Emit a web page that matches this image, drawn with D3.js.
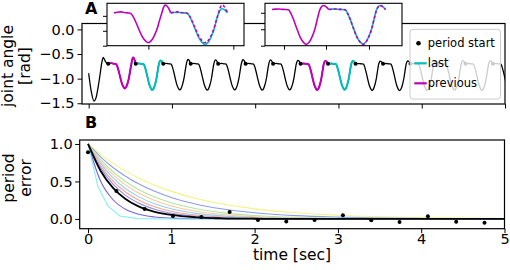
<!DOCTYPE html>
<html><head><meta charset="utf-8">
<script src="https://cdn.jsdelivr.net/npm/d3@7"></script>
<style>body{margin:0;background:#fff} svg{display:block} text{font-family:"DejaVu Sans",sans-serif}</style>
</head><body><svg id="c" width="510" height="270"></svg>
<script>
// ================= DATA =================
// Panel A: joint angle signal
const initTimes  = [0.0, 0.03, 0.064, 0.09, 0.115, 0.14, 0.156, 0.175, 0.19, 0.204, 0.235];
const initValues = [-0.89, -1.25, -1.455, -1.38, -1.16, -0.88, -0.69, -0.57, -0.61, -0.66, -0.70];
const periodStartTimes = [0.235, 0.565, 0.895, 1.225, 1.555, 1.885, 2.215, 2.545, 2.875, 3.205, 3.535, 3.865, 4.195, 4.525, 4.855];
// one gait period (phase 0..1)
const templatePhase = [0, 0.06, 0.12, 0.18, 0.24, 0.29, 0.33, 0.38, 0.43, 0.50, 0.56, 0.60, 0.65, 0.70, 0.76, 0.80, 0.84, 0.87, 0.90, 0.935, 0.97, 1.0];
const templateValue = [-0.70, -0.69, -0.685, -0.695, -0.70, -0.705, -0.75, -0.84, -0.95, -1.09, -1.16, -1.185, -1.16, -1.09, -0.96, -0.83, -0.71, -0.62, -0.575, -0.59, -0.64, -0.70];
const periodMin  = [-1.20, -1.23, -1.23, -1.235, -1.23, -1.235, -1.23, -1.23, -1.225, -1.24, -1.245, -1.24, -1.235, -1.24, -1.24];
const periodPeak = [-0.57, -0.63, -0.61, -0.62, -0.615, -0.62, -0.63, -0.64, -0.64, -0.645, -0.64, -0.64, -0.635, -0.64, -0.64];
const periodRole = ["previous","last","","","","","","previous","last","","","","","",""];
const aYTicks = [0, -0.5, -1.0, -1.5];
const aXTicks = [0, 1, 2, 3, 4, 5];
const inset1YTicks = [-0.75, -1.0, -1.25];
const inset2YTicks = [-0.75, -1.0, -1.25];
const inset1XTicks = [0.2, 0.694];
const inset2XTicks = [0.07, 0.314, 0.564];

// Panel B: period error
const errTimes = [0, 0.15, 0.3, 0.45, 0.6, 0.8, 1.0, 1.3, 1.6, 2.0, 2.5, 3.0, 4.0, 5.0];
const errYellow    = [1, 0.861, 0.741, 0.638, 0.549, 0.449, 0.368, 0.273, 0.202, 0.135, 0.082, 0.050, 0.018, 0.007];
const errBlue      = [1, 0.829, 0.687, 0.570, 0.472, 0.368, 0.287, 0.197, 0.135, 0.082, 0.044, 0.024, 0.007, 0.002];
const errGreen     = [1, 0.794, 0.630, 0.500, 0.397, 0.292, 0.215, 0.135, 0.085, 0.046, 0.021, 0.010, 0.002, 0.0];
const errPeach     = [1, 0.769, 0.591, 0.454, 0.349, 0.246, 0.173, 0.102, 0.060, 0.030, 0.012, 0.005, 0.001, 0];
const errLightBlue = [1, 0.741, 0.549, 0.407, 0.301, 0.202, 0.135, 0.074, 0.041, 0.018, 0.007, 0.002, 0, 0];
const errSalmon    = [1, 0.711, 0.506, 0.360, 0.256, 0.162, 0.103, 0.052, 0.026, 0.011, 0.003, 0.001, 0, 0];
const errBlue2     = [1, 0.681, 0.463, 0.315, 0.215, 0.129, 0.077, 0.036, 0.017, 0.006, 0.002, 0, 0, 0];
const errPurple    = [1, 0.506, 0.256, 0.129, 0.065, 0.026, 0.011, 0.003, 0.001, 0, 0, 0, 0, 0];
const errBlack     = [1, 0.643, 0.414, 0.266, 0.171, 0.095, 0.053, 0.022, 0.009, 0.003, 0.001, 0, 0, 0];
const cyanTimes  = [0, 0.12, 0.24, 0.38, 0.6, 1.0, 5.0];
const errCyan    = [1, 0.43, 0.17, 0.04, 0.005, 0, 0];
const dotTimes  = [0, 0.34, 0.68, 1.02, 1.36, 1.70, 2.04, 2.38, 2.72, 3.06, 3.40, 3.74, 4.08, 4.42, 4.76];
const dotValues = [0.89, 0.373, 0.133, 0.038, 0.025, 0.093, -0.013, -0.033, -0.013, 0.049, -0.018, -0.04, 0.036, -0.036, -0.049];
const bYTicks = [0, 0.5, 1.0];
const bXTicks = [0, 1, 2, 3, 4, 5];

// ================= DRAW =================
const svg = d3.select('#c');
svg.append('rect').attr('width',510).attr('height',270).attr('fill','#fff');
const MAG = '#bf00bf', CYA = '#00bfbf';
const TICK_FS = 14.5, LABEL_FS = 15.5;

const xA = d3.scaleLinear().domain([-0.08, 5.0]).range([82, 505]);
const yA = d3.scaleLinear().domain([-1.515, 0.12]).range([104, 23.5]);
const xB = d3.scaleLinear().domain([-0.1, 5.0]).range([79.7, 504.5]);
const yB = d3.scaleLinear().domain([-0.13, 1.053]).range([228.7, 140]);

const PLATEAU = -0.70, REF_MIN = -1.185, REF_PEAK = -0.575;
function periodSeg(k){
  const t0 = periodStartTimes[k];
  const P = (k+1 < periodStartTimes.length ? periodStartTimes[k+1] : t0 + (t0 - periodStartTimes[k-1])) - t0;
  return templatePhase.map((p,i)=>{
    const d = templateValue[i] - PLATEAU;
    const s = d < 0 ? (periodMin[k]-PLATEAU)/(REF_MIN-PLATEAU) : (periodPeak[k]-PLATEAU)/(REF_PEAK-PLATEAU);
    return {t: t0 + p*P, v: PLATEAU + d*s};
  });
}
const segs = periodStartTimes.map((_,k)=>periodSeg(k));
let signal = initTimes.map((t,i)=>({t, v: initValues[i]}));
segs.forEach(s=>{ signal = signal.concat(s.slice(1)); });

const defs = svg.append('defs');
defs.append('clipPath').attr('id','clipA').append('rect').attr('x',82).attr('y',23.5).attr('width',423).attr('height',80.5);
defs.append('clipPath').attr('id','clipB').append('rect').attr('x',79.7).attr('y',140).attr('width',424.8).attr('height',88.7);

function styleAxis(g, fs){
  g.select('.domain').remove();
  g.selectAll('.tick line').attr('stroke','#000').attr('stroke-width',1);
  g.selectAll('.tick text').attr('fill','#000').style('font-size',fs+'px').style('font-family','"DejaVu Sans", sans-serif');
}

// ---------- Panel A ----------
const gA = svg.append('g');
const lineA = d3.line().x(d=>xA(d.t)).y(d=>yA(d.v)).curve(d3.curveMonotoneX);
const plotA = gA.append('g').attr('clip-path','url(#clipA)');
plotA.append('path').datum(signal).attr('d',lineA).attr('fill','none').attr('stroke','#000').attr('stroke-width',1.3);
segs.forEach((s,k)=>{
  if(periodRole[k]==='previous' || periodRole[k]==='last'){
    plotA.append('path').datum(s).attr('d',lineA).attr('fill','none')
      .attr('stroke', periodRole[k]==='previous'?MAG:CYA).attr('stroke-width',2);
  }
});
plotA.selectAll('circle.ps').data(segs.map(s=>s[0])).enter().append('circle')
  .attr('cx',d=>xA(d.t)).attr('cy',d=>yA(d.v)).attr('r',2).attr('fill','#000');

const axAY = gA.append('g').attr('transform','translate(82,0)')
  .call(d3.axisLeft(yA).tickValues(aYTicks).tickFormat(d3.format('.1f')).tickSize(4.5).tickPadding(3));
styleAxis(axAY, TICK_FS);
const axAX = gA.append('g').attr('transform','translate(0,104)')
  .call(d3.axisBottom(xA).tickValues(aXTicks).tickFormat('').tickSize(4.5));
styleAxis(axAX, TICK_FS);
gA.append('rect').attr('x',82).attr('y',23.5).attr('width',423).attr('height',80.5)
  .attr('fill','none').attr('stroke','#000').attr('stroke-width',1.2);

// legend
const lg = svg.append('g');
lg.append('rect').attr('x',410).attr('y',29.3).attr('width',90.5).attr('height',69.7).attr('rx',3)
  .attr('fill','#fff').attr('fill-opacity',0.8).attr('stroke','#cccccc').attr('stroke-width',1);
const legendItems = [
  {label:'period start', kind:'dot', y:43.3},
  {label:'last', kind:'line', color:CYA, y:63.3},
  {label:'previous', kind:'line', color:MAG, y:83.3}
];
legendItems.forEach(it=>{
  if(it.kind==='dot') lg.append('circle').attr('cx',418.5).attr('cy',it.y).attr('r',2.3).attr('fill','#000');
  else lg.append('line').attr('x1',414.3).attr('x2',426.7).attr('y1',it.y).attr('y2',it.y).attr('stroke',it.color).attr('stroke-width',2.2);
  lg.append('text').attr('x',427.8).attr('y',it.y+4).style('font-size','11.5px').attr('fill','#000').text(it.label);
});

// insets
function drawInset(x0, x1, kPrev, yDomain, yTicks, xTicks, id){
  const y0 = 3.3, y1 = 45.7;
  const tStart = periodStartTimes[kPrev];
  const P = periodStartTimes[kPrev+1] - tStart;
  const xs = d3.scaleLinear().domain([-0.0407, 0.756]).range([x0, x1]);
  const ys = d3.scaleLinear().domain(yDomain).range([y1, y0]);
  const g = svg.append('g');
  g.append('rect').attr('x',x0).attr('y',y0).attr('width',x1-x0).attr('height',y1-y0).attr('fill','#fff');
  defs.append('clipPath').attr('id',id).append('rect').attr('x',x0).attr('y',y0).attr('width',x1-x0).attr('height',y1-y0);
  const pl = g.append('g').attr('clip-path',`url(#${id})`);
  const ln = d3.line().x(d=>xs(d.t - tStart)).y(d=>ys(d.v)).curve(d3.curveMonotoneX);
  pl.append('path').datum(segs[kPrev]).attr('d',ln).attr('fill','none').attr('stroke',MAG).attr('stroke-width',1.6);
  pl.append('path').datum(segs[kPrev+1]).attr('d',ln).attr('fill','none').attr('stroke',CYA).attr('stroke-width',1.6);
  const shifted = segs[kPrev].map(d=>({t:d.t + P, v:d.v}));
  pl.append('path').datum(shifted).attr('d',ln).attr('fill','none').attr('stroke',MAG).attr('stroke-width',1.6).attr('stroke-dasharray','3,2');
  const ay = g.append('g').attr('transform',`translate(${x0},0)`).call(d3.axisLeft(ys).tickValues(yTicks).tickFormat('').tickSize(4));
  styleAxis(ay, 10);
  const ax = g.append('g').attr('transform',`translate(0,${y1})`).call(d3.axisBottom(xs).tickValues(xTicks).tickFormat('').tickSize(4));
  styleAxis(ax, 10);
  g.append('rect').attr('x',x0).attr('y',y0).attr('width',x1-x0).attr('height',y1-y0)
    .attr('fill','none').attr('stroke','#000').attr('stroke-width',1.1);
}
drawInset(107, 244, 0, [-1.25, -0.54], inset1YTicks, inset1XTicks, 'ci1');
drawInset(265, 402, 7, [-1.25, -0.606], inset2YTicks, inset2XTicks, 'ci2');

// ---------- Panel B ----------
const gB = svg.append('g');
const plotB = gB.append('g').attr('clip-path','url(#clipB)');
const lineB = d3.line().x(d=>xB(d[0])).y(d=>yB(d[1])).curve(d3.curveMonotoneX);
const colored = [
  {v:errYellow, c:'#f3f383'},
  {v:errBlue, c:'#8e9cf0'},
  {v:errGreen, c:'#b6e3a0'},
  {v:errPeach, c:'#f7c99e'},
  {v:errLightBlue, c:'#98cdf1'},
  {v:errSalmon, c:'#f1a68e'},
  {v:errBlue2, c:'#8c8ce8'},
  {v:errPurple, c:'#7a62d8'}
];
colored.forEach(s=>{
  plotB.append('path').datum(errTimes.map((t,i)=>[t, s.v[i]])).attr('d',lineB)
    .attr('fill','none').attr('stroke',s.c).attr('stroke-width',1.1);
});
plotB.append('path').datum(cyanTimes.map((t,i)=>[t, errCyan[i]]))
  .attr('d', d3.line().x(d=>xB(d[0])).y(d=>yB(d[1])))
  .attr('fill','none').attr('stroke','#86eef0').attr('stroke-width',1.1);
plotB.append('path').datum(errTimes.map((t,i)=>[t, errBlack[i]])).attr('d',lineB)
  .attr('fill','none').attr('stroke','#000').attr('stroke-width',1.8);
plotB.selectAll('circle.d').data(dotTimes.map((t,i)=>[t, dotValues[i]])).enter().append('circle')
  .attr('cx',d=>xB(d[0])).attr('cy',d=>yB(d[1])).attr('r',2).attr('fill','#000');

const axBY = gB.append('g').attr('transform','translate(79.7,0)')
  .call(d3.axisLeft(yB).tickValues(bYTicks).tickFormat(d3.format('.1f')).tickSize(4.5).tickPadding(2.5));
styleAxis(axBY, TICK_FS);
const axBX = gB.append('g').attr('transform','translate(0,228.7)')
  .call(d3.axisBottom(xB).tickValues(bXTicks).tickFormat(d3.format('d')).tickSize(4.5).tickPadding(0.5));
styleAxis(axBX, TICK_FS);
gB.append('rect').attr('x',79.7).attr('y',140).attr('width',424.8).attr('height',88.7)
  .attr('fill','none').attr('stroke','#000').attr('stroke-width',1.2);

// ---------- Labels ----------
svg.append('text').attr('x',85).attr('y',13.5).style('font-size','16px').style('font-weight','bold').text('A');
svg.append('text').attr('x',85).attr('y',128).style('font-size','16px').style('font-weight','bold').text('B');
function vlabel(lines, cy, xs){
  lines.forEach((s,i)=>{
    svg.append('text').attr('transform',`translate(${xs[i]},${cy}) rotate(-90)`)
      .attr('text-anchor','middle').style('font-size',LABEL_FS+'px').text(s);
  });
}
vlabel(['joint angle','[rad]'], 66, [12.5, 30]);
vlabel(['period','error'], 178, [14, 31]);
svg.append('text').attr('x',292).attr('y',260).attr('text-anchor','middle').style('font-size',LABEL_FS+'px').text('time [sec]');
</script></body></html>
